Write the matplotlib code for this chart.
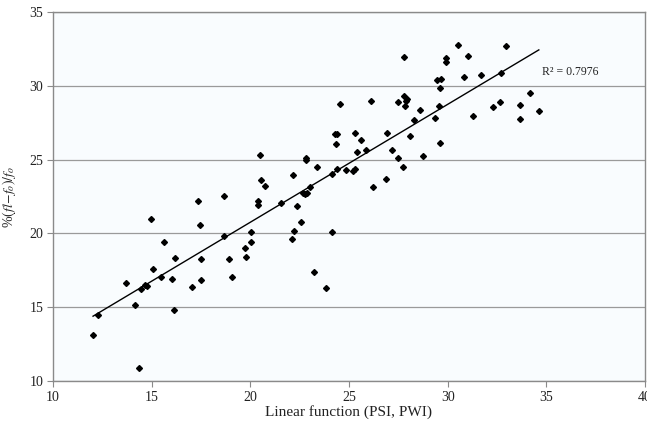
import matplotlib
matplotlib.use("Agg")
import matplotlib.pyplot as plt
import numpy as np

x_vals = [12.03, 12.3, 14.37, 14.17, 13.72, 14.44, 14.66, 14.76, 15.08, 14.95,
          15.49, 15.64, 16.03, 16.15, 16.2, 17.06, 17.33, 17.47, 17.5, 17.5,
          18.67, 18.67, 18.9, 19.09, 19.73, 19.78, 20.05, 20.05, 20.39, 20.39,
          20.73, 21.54, 22.11, 22.23, 22.38, 22.57, 22.69, 22.77, 22.86, 23.03,
          23.23, 23.84, 24.12, 20.49, 20.54, 22.15, 22.82, 22.82, 23.38, 24.12,
          24.38, 24.34, 24.31, 24.41, 24.56, 24.83, 25.22, 25.29, 25.31, 25.39,
          25.6, 25.86, 26.13, 26.22, 26.88, 26.94, 27.79, 27.2, 27.47, 27.74,
          27.47, 27.77, 27.96, 27.91, 27.83, 28.08, 28.28, 28.6, 28.74, 29.35,
          29.56, 29.45, 29.67, 29.61, 29.63, 29.9, 29.92, 30.54, 30.85, 31.05,
          31.3, 31.69, 32.3, 32.64, 32.72, 32.97, 33.68, 33.68, 34.16, 34.62]
y_vals = [13.12, 14.5, 10.9, 15.13, 16.66, 16.23, 16.48, 16.46, 17.59, 20.95,
          17.05, 19.42, 16.89, 14.79, 18.31, 16.34, 22.17, 20.57, 18.25, 16.82,
          22.55, 19.84, 18.29, 17.07, 18.99, 18.38, 20.12, 19.42, 22.22, 21.95,
          23.23, 22.08, 19.6, 20.16, 21.86, 20.79, 22.76, 22.67, 22.76, 23.17,
          17.4, 16.28, 20.07, 25.29, 23.64, 23.96, 25.11, 25.0, 24.48, 24.02,
          24.36, 26.08, 26.76, 26.76, 28.77, 24.32, 24.23, 24.36, 26.78, 25.54,
          26.31, 25.63, 28.95, 23.12, 23.66, 26.82, 31.97, 25.65, 25.13, 24.48,
          28.88, 29.33, 29.1, 28.99, 28.63, 26.58, 27.66, 28.34, 25.22, 27.8,
          28.61, 30.39, 30.46, 29.87, 26.1, 31.86, 31.63, 32.74, 30.62, 32.0,
          27.95, 30.71, 28.56, 28.88, 30.89, 32.7, 28.72, 27.73, 29.49, 28.29]
x_ticks = [10, 15, 20, 25, 30, 35, 40]
y_ticks = [10, 15, 20, 25, 30, 35]
r2_label = "R² = 0.7976"

plt.rcParams['font.family'] = ['Liberation Serif', 'DejaVu Serif']
plt.rcParams['mathtext.fontset'] = 'stix'

fig = plt.figure(figsize=(6.47, 4.25), dpi=100)
fig.patch.set_facecolor('white')
ax = fig.add_axes([0.0819, 0.1035, 0.915, 0.868])
ax.set_facecolor('#f9fcfe')

x = np.array(x_vals)
y = np.array(y_vals)
coef = np.polyfit(x, y, 1)
xl = np.array([x.min(), x.max()])
ax.plot(xl, np.polyval(coef, xl), color='black', lw=1.0, zorder=3)
ax.plot(x, y, linestyle='none', marker='D', ms=3.0, color='black', zorder=4)

ax.set_xlim(10, 40)
ax.set_ylim(10, 35)
ax.set_xticks(x_ticks)
ax.set_yticks(y_ticks)
ax.yaxis.grid(True, color='#9a9a9a', lw=0.9)
ax.set_axisbelow(True)
for s in ax.spines.values():
    s.set_color('#8a8a8a')
    s.set_linewidth(1.0)
ax.tick_params(axis='both', direction='out', length=4, color='#8a8a8a',
               labelsize=10, labelcolor='#222222', pad=3)

ax.text(34.77, 30.95, r2_label, fontsize=8.5, va='center', ha='left', color='#222222')

ax.set_xlabel('Linear function (PSI, PWI)', fontsize=11, color='#222222', labelpad=1)
ax.set_ylabel(r'%$(fl\!-\!f_o)/f_o$', fontsize=10, color='#222222', labelpad=8)

fig.savefig('out.png', dpi=100)
